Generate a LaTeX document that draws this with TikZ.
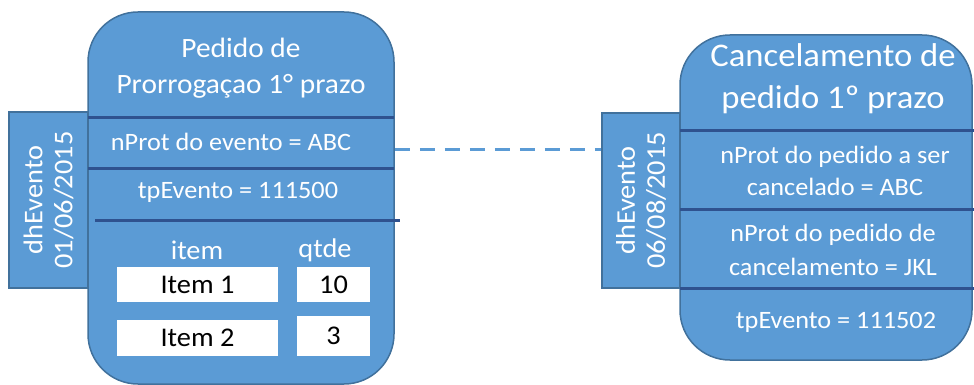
\documentclass[tikz,border=0pt]{standalone}
\usepackage{fontspec}
\setmainfont{Carlito}[FakeStretch=1.05]
\usepackage{tikz}
\usetikzlibrary{calc}

\definecolor{Azul}{HTML}{5B9BD5}
\definecolor{AzulBorda}{HTML}{41719C}
\definecolor{AzulEscuro}{HTML}{2F528F}

\begin{document}
\begin{tikzpicture}[x=1pt, y=-1pt,
    caixa/.style={fill=Azul, draw=AzulBorda, line width=1.5pt},
    aba/.style={fill=Azul, draw=AzulBorda, line width=1.5pt},
    divisor/.style={draw=AzulEscuro, line width=3pt},
    texto/.style={text=white, align=center},
    campo/.style={fill=white, text=black, inner sep=0pt,
        font=\fontsize{27}{30}\selectfont},
    ligacao/.style={draw=Azul, line width=3pt, dash pattern=on 15pt off 10pt}]

    \clip (0,0) rectangle (974,385);

        % pedido de prorrogacao
        \begin{scope}
            \node[aba, minimum width=79pt, minimum height=176pt]
                (Tab1) at (48.5,200) {};
            \node[texto, rotate=90, font=\fontsize{27}{30}\selectfont]
                at (Tab1) {dhEvento\\01/06/2015};
            \node[caixa, rounded corners=50pt,
                minimum width=306pt, minimum height=372pt]
                (Box1) at (241,198) {};
            \node[texto, font=\fontsize{28}{36}\selectfont] at (241,68)
                {Pedido de\\Prorrogaçao 1° prazo};
            \draw[divisor] (88,118) -- (394,118);
            \node[texto, font=\fontsize{25}{28}\selectfont] at (231,142)
                {nProt do evento = ABC};
            \draw[divisor] (88,168) -- (394,168);
            \node[texto, font=\fontsize{25}{28}\selectfont] at (238,192)
                {tpEvento = 111500};
            \draw[divisor] (95,220) -- (400,220);
            \node[texto, font=\fontsize{27}{30}\selectfont] at (197,250) {item};
            \node[texto, font=\fontsize{27}{30}\selectfont] at (325,250) {qtde};
            \node[campo, minimum width=161pt, minimum height=35pt]
                (Item1) at (197.5,284.5) {Item 1};
            \node[campo, minimum width=73pt, minimum height=35pt]
                (Qtde1) at (333.5,284.5) {10};
            \node[campo, minimum width=161pt, minimum height=36pt]
                (Item2) at (197.5,338) {Item 2};
            \node[campo, minimum width=73pt, minimum height=40pt]
                (Qtde2) at (333.5,336) {3};
        \end{scope}

        % cancelamento de pedido
        \begin{scope}
            \node[aba, minimum width=78pt, minimum height=175pt]
                (Tab2) at (641,200.5) {};
            \node[texto, rotate=90, font=\fontsize{27}{30}\selectfont]
                at (Tab2) {dhEvento\\06/08/2015};
            \node[caixa, rounded corners=50pt,
                minimum width=292pt, minimum height=325pt]
                (Box2) at (826,197.5) {};
            \node[texto, font=\fontsize{33}{42}\selectfont] at (833,79)
                {Cancelamento de\\pedido 1º prazo};
            \draw[divisor] (680,131) -- (974,131);
            \node[texto, font=\fontsize{25}{32}\selectfont] at (835,171)
                {nProt do pedido a ser\\cancelado = ABC};
            \draw[divisor] (680,209) -- (974,209);
            \node[texto, font=\fontsize{25}{34}\selectfont] at (833,250)
                {nProt do pedido de\\cancelamento = JKL};
            \draw[divisor] (680,288) -- (974,288);
            \node[texto, font=\fontsize{25}{28}\selectfont] at (836,322)
                {tpEvento = 111502};
        \end{scope}

        \coordinate (Lig) at ([yshift=49pt]Box1.east);
        \draw[ligacao] (Lig) -- (Lig -| Tab2.west);

    \end{tikzpicture}
\end{document}
